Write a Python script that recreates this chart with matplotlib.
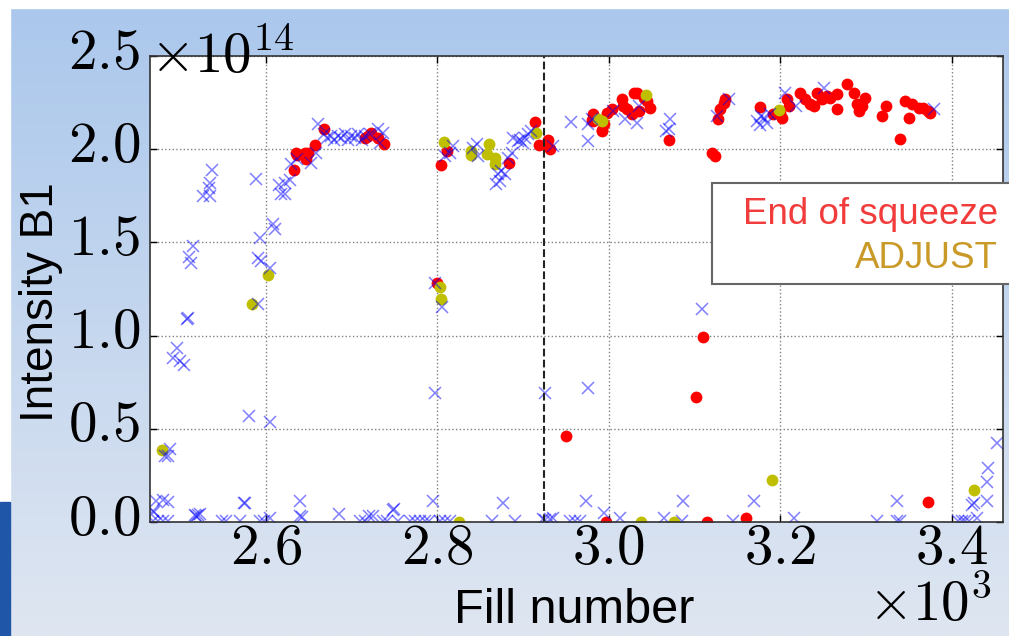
"""
Intensity B1 vs fill number, with End-of-squeeze and ADJUST points.
"""
import numpy as np
import matplotlib.pyplot as plt
import matplotlib.transforms as mtransforms
from matplotlib.ticker import FuncFormatter, MultipleLocator
from matplotlib.patches import Rectangle
from matplotlib.colors import LinearSegmentedColormap

plt.rcParams.update({
    "mathtext.fontset": "cm",
    "font.family": ["Liberation Sans", "DejaVu Sans"],
})

# ---------- data: fill number, intensity in units of 1e14 ----------
fill_all = [
    2537, 2535, 2534, 2527, 2535, 2515, 2511, 2513, 2508, 2509, 2496, 2492, 2500, 2505,
    2482, 2488, 2486, 2472, 2480, 2486, 2468, 2470, 2468, 2474, 2480, 2486, 2519, 2521,
    2523, 2517, 2549, 2554, 2570, 2575, 2576, 2593, 2598, 2605, 2640, 2640, 2642, 2686,
    2710, 2716, 2721, 2725, 2737, 2742, 2748, 2750, 2754, 2768, 2774, 2780, 2786, 2791,
    2795, 2803, 2809, 2815, 2864, 2877, 2891, 2924, 2926, 2932, 2935, 2955, 2961, 2967,
    2974, 2994, 3013, 3064, 3085, 3087, 3145, 3169, 3216, 3313, 3336, 3340, 3336, 3408,
    3412, 3416, 3420, 3424, 3426, 3430, 3441, 3441, 3442, 3453,
    2589, 2593, 2591, 2595, 2605, 2591, 2580, 2605, 2609, 2611, 2616, 2622, 2628, 2618,
    2622, 2630, 2636, 2653, 2659, 2661,
    2668, 2672, 2676, 2680, 2684, 2688, 2692, 2696, 2700, 2704, 2708, 2712, 2716, 2722,
    2731, 2737, 2733,
    2798, 2806, 2797, 2819, 2809, 2815, 2842, 2848, 2846, 2871, 2875, 2869, 2879, 2873,
    2883, 2887, 2889, 2894, 2900, 2906, 2910, 2897, 2903, 2935, 2926, 2956,
    2976, 2976, 2980, 3005, 3019, 3033, 3035, 3071, 3067, 3070, 3109, 2976, 3126, 3140,
    3173, 3177, 3181, 3185, 3188, 3178, 3206, 3218, 3251, 3379,
]
int_all = [
    1.89, 1.82, 1.79, 1.75, 1.75, 1.48, 1.42, 1.39, 1.09, 1.095, 0.935, 0.88, 0.864, 0.84,
    0.354, 0.39, 0.356, 0.113, 0.118, 0.109, 0.059, 0.055, 0.005, 0.005, 0.005, 0.005, 0.03, 0.035,
    0.043, 0.038, 0.003, 0.003, 0.004, 0.104, 0.1, 0.003, 0.005, 0.02, 0.113, 0.03, 0.028, 0.045,
    0.004, 0.004, 0.03, 0.032, 0.003, 0.004, 0.064, 0.068, 0.004, 0.003, 0.004, 0.003, 0.004, 0.003,
    0.113, 0.004, 0.003, 0.004, 0.004, 0.104, 0.003, 0.015, 0.01, 0.015, 0.02, 0.005, 0.004, 0.005,
    0.113, 0.047, 0.02, 0.02, 0.005, 0.113, 0.004, 0.113, 0.02, 0.004, 0.004, 0.004, 0.113, 0.003,
    0.003, 0.003, 0.003, 0.091, 0.1, 0.02, 0.113, 0.216, 0.288, 0.422,
    1.842, 1.525, 1.418, 1.40, 1.364, 1.17, 0.569, 0.538, 1.597, 1.574, 1.81, 1.82, 1.835, 1.758,
    1.758, 1.919, 1.946, 1.928, 1.981, 2.133,
    2.08, 2.06, 2.07, 2.05, 2.07, 2.06, 2.08, 2.05, 2.07, 2.06, 2.08, 2.05, 2.07, 2.08,
    2.107, 2.089, 2.035,
    1.28, 1.155, 0.694, 2.017, 1.964, 1.981, 2.008, 1.964, 2.026, 1.865, 1.883, 1.812, 1.865, 1.829,
    1.954, 1.981, 2.062, 2.044, 2.035, 2.08, 2.098, 2.05, 2.06, 2.017, 0.69, 2.146,
    2.044, 2.133, 2.16, 2.205, 2.16, 2.142, 2.232, 2.16, 2.098, 2.107, 1.141, 0.717, 2.18, 2.268,
    2.15, 2.13, 2.17, 2.14, 2.19, 2.18, 2.303, 2.232, 2.33, 2.214,
]

fill_squeeze = [
    2633, 2635, 2636, 2646, 2647, 2649, 2657, 2668, 2716, 2719, 2723, 2731, 2738,
    2800, 2811, 2805, 2884, 2914, 2919, 2929, 2932, 2928, 2950,
    2982, 2982, 2992, 2994, 2980, 2992, 2998, 3004, 3015, 3017, 3021, 3027, 3029, 3033,
    3035, 3041, 3045, 3048, 3070, 3120, 3124, 3128, 3130, 3134, 3136, 3177, 3192, 3200,
    3202, 3208, 3210, 3102, 3110,
    3223, 3229, 3235, 3239, 3243, 3249, 3255, 3258, 3266, 3266, 3278, 3286, 3290, 3292,
    3299, 3295, 3319, 3323, 3340, 3346, 3350, 3354, 3362, 3367, 3373, 3375,
    2997, 3115, 3160, 3372,
]
int_squeeze = [
    1.888, 1.981, 1.967, 1.981, 1.946, 1.98, 2.021, 2.11, 2.062, 2.071, 2.089, 2.062, 2.026,
    1.284, 1.99, 1.913, 1.928, 2.146, 2.021, 2.048, 2.003, 2.017, 0.461,
    2.187, 2.151, 2.098, 2.133, 2.157, 2.103, 2.196, 2.214, 2.268, 2.232, 2.214, 2.187, 2.303, 2.303,
    2.205, 2.276, 2.259, 2.223, 2.049, 1.978, 1.964, 2.164, 2.214, 2.25, 2.268, 2.228, 2.187, 2.196,
    2.169, 2.268, 2.232, 0.672, 0.994,
    2.303, 2.268, 2.241, 2.232, 2.303, 2.268, 2.285, 2.276, 2.294, 2.214, 2.348, 2.303, 2.241, 2.205,
    2.276, 2.232, 2.178, 2.232, 2.056, 2.259, 2.169, 2.241, 2.223, 2.223, 2.205, 2.196,
    0.0, 0.0, 0.02, 0.107,
]

fill_adjust = [2479, 2603, 2584, 2808, 2803, 2804, 2840, 2839, 2860, 2858, 2867, 2867, 2915,
               2826, 2988, 2992, 3044, 3199, 3038, 3076, 3190, 3426]
int_adjust = [0.386, 1.325, 1.168, 2.039, 1.262, 1.195, 1.99, 1.97, 2.026, 1.972, 1.954, 1.919, 2.089,
              0.0, 2.16, 2.151, 2.291, 2.209, 0.0, 0.0, 0.224, 0.172]

REF_FILL = 2925
XLIM = (2465, 3460)
YLIM = (0, 2.5)

W, H = 1009, 636
fig = plt.figure(figsize=(W / 100, H / 100), dpi=100)

# ---------- slide background ----------
bg = fig.add_axes([0, 0, 1, 1], zorder=-10)
cmap = LinearSegmentedColormap.from_list("slide", ["#aac7ec", "#dfe6f1"])
bg.imshow(np.linspace(0, 1, 256)[:, None], aspect="auto", cmap=cmap,
          extent=[0, 1, 0, 1], origin="upper")
bg.add_patch(Rectangle((0, 1 - 8 / H), 1, 8 / H, color="white"))
bg.add_patch(Rectangle((0, 134 / H), 10 / W, 1, color="white"))
bg.add_patch(Rectangle((0, 0), 10 / W, 134 / H, color="#1f56a8"))
bg.set_xlim(0, 1)
bg.set_ylim(0, 1)
bg.axis("off")

# ---------- main plot ----------
ax = fig.add_axes([150 / W, 114 / H, 853 / W, 466 / H])
ax.plot(fill_squeeze, np.array(int_squeeze) * 1e14, "o", color="r", ms=8.5, mew=0)
ax.plot(fill_adjust, np.array(int_adjust) * 1e14, "o", color="y", ms=8.5, mew=0)
ax.plot(fill_all, np.array(int_all) * 1e14, "x", color="b", ms=8, mew=1.1, alpha=0.5)
ax.axvline(REF_FILL, color="#222222", ls="--", lw=1.5)

ax.set_xlim(*XLIM)
ax.set_ylim(YLIM[0] * 1e14, YLIM[1] * 1e14)
ax.xaxis.set_major_locator(MultipleLocator(200))
ax.yaxis.set_major_locator(MultipleLocator(0.5e14))
ax.xaxis.set_major_formatter(FuncFormatter(lambda v, p: rf"${v / 1000:.1f}$"))
ax.yaxis.set_major_formatter(FuncFormatter(lambda v, p: rf"${v / 1e14:.1f}$"))
ax.tick_params(direction="in", top=True, right=True, length=5, width=1,
               labelsize=41)
ax.tick_params(axis="x", pad=0)
ax.tick_params(axis="y", pad=7)
ax.grid(True, linestyle=":", color="#808080", lw=1)
for s in ax.spines.values():
    s.set_color("#333333")
    s.set_linewidth(1.2)

# y tick labels sit a little above their ticks in the original
up = mtransforms.ScaledTranslation(0, 6 / 72, fig.dpi_scale_trans)
for lab in ax.get_yticklabels():
    lab.set_transform(lab.get_transform() + up)

ax.text(0, 0.963, r"$\times10^{14}$", transform=ax.transAxes, ha="left", va="baseline",
        fontsize=41)
ax.text(0.987, -0.214, r"$\times10^{3}$", transform=ax.transAxes, ha="right",
        va="baseline", fontsize=41)

ax.set_xlabel("Fill number", fontsize=35)
ax.xaxis.set_label_coords(0.497, -0.142)
ax.set_ylabel("Intensity B1", fontsize=33)
ax.yaxis.set_label_coords(-0.102, 0.472)

# ---------- legend box (slide overlay) ----------
fig.add_artist(Rectangle((712 / W, 352 / H), 320 / W, 101 / H, transform=fig.transFigure,
                         fc="white", ec="#666666", lw=1.5, zorder=20))
fig.text(998 / W, (H - 224) / H, "End of squeeze", color="#f23c3c", fontsize=26.5,
         ha="right", va="baseline", zorder=21)
fig.text(998 / W, (H - 268) / H, "ADJUST", color="#c99a27", fontsize=26.5,
         ha="right", va="baseline", zorder=21)

fig.savefig("out.png", dpi=100)
